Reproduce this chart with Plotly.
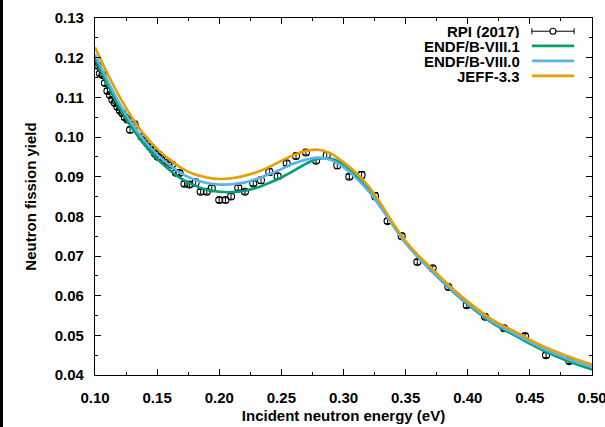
import plotly.graph_objects as go

# RPI (2017) measurement: incident energy (eV), yield, 1-sigma uncertainty
rpi_energy = [0.1000, 0.1020, 0.1040, 0.1060, 0.1080, 0.1100, 0.1120, 0.1140, 0.1160, 0.1180,
              0.1200, 0.1220, 0.1240, 0.1260, 0.1282, 0.1320, 0.1376, 0.1400, 0.1420, 0.1443,
              0.1465, 0.1483, 0.1505, 0.1530, 0.1560, 0.1590, 0.1620, 0.1650, 0.1680, 0.1720,
              0.1760, 0.1810, 0.1850, 0.1900, 0.1940, 0.2000, 0.2050, 0.2095, 0.2153, 0.2207,
              0.2274, 0.2336, 0.2403, 0.2470, 0.2543, 0.2618, 0.2698, 0.2779, 0.2865, 0.2950,
              0.3047, 0.3146, 0.3254, 0.3355, 0.3468, 0.3594, 0.3718, 0.3844, 0.3992, 0.4139,
              0.4292, 0.4461, 0.4630, 0.4817]
rpi_yield = [0.1188, 0.1180, 0.1160, 0.1156, 0.1136, 0.1116, 0.1106, 0.1094, 0.1086, 0.1076,
             0.1067, 0.1060, 0.1050, 0.1044, 0.1018, 0.1030, 0.1000, 0.0992, 0.0984, 0.0975,
             0.0967, 0.0958, 0.0950, 0.0948, 0.0942, 0.0936, 0.0930, 0.0910, 0.0909, 0.0882,
             0.0880, 0.0885, 0.0862, 0.0862, 0.0871, 0.0841, 0.0841, 0.0850, 0.0872, 0.0862,
             0.0883, 0.0891, 0.0912, 0.0901, 0.0934, 0.0952, 0.0961, 0.0940, 0.0954, 0.0929,
             0.0900, 0.0904, 0.0851, 0.0788, 0.0750, 0.0685, 0.0669, 0.0622, 0.0576, 0.0547,
             0.0518, 0.0498, 0.0450, 0.0435]
rpi_error = [0.0006, 0.0006, 0.0006, 0.0006, 0.0006, 0.0006, 0.0006, 0.0006, 0.0006, 0.0006,
             0.0006, 0.0006, 0.0006, 0.0006, 0.0007, 0.0010, 0.0006, 0.0006, 0.0006, 0.0006,
             0.0006, 0.0006, 0.0006, 0.0006, 0.0006, 0.0006, 0.0006, 0.0006, 0.0006, 0.0006,
             0.0006, 0.0009, 0.0006, 0.0006, 0.0007, 0.0006, 0.0006, 0.0007, 0.0006, 0.0006,
             0.0006, 0.0008, 0.0009, 0.0007, 0.0006, 0.0007, 0.0006, 0.0006, 0.0007, 0.0009,
             0.0006, 0.0009, 0.0009, 0.0006, 0.0006, 0.0006, 0.0006, 0.0006, 0.0006, 0.0006,
             0.0006, 0.0006, 0.0006, 0.0006]

# Evaluated-library curves on a common energy grid (eV)
eval_energy = [0.10, 0.11, 0.12, 0.13, 0.14, 0.15, 0.16, 0.17, 0.18, 0.19,
               0.20, 0.21, 0.22, 0.23, 0.24, 0.25, 0.26, 0.27, 0.28, 0.29,
               0.30, 0.31, 0.32, 0.33, 0.34, 0.35, 0.36, 0.37, 0.38, 0.39,
               0.40, 0.42, 0.44, 0.46, 0.48, 0.50]
endf_b81 = [0.1198, 0.1132, 0.1072, 0.1022, 0.0980, 0.0945, 0.0917, 0.0894, 0.0878, 0.0867,
            0.0862, 0.0861, 0.0864, 0.0872, 0.0884, 0.0898, 0.0915, 0.0933, 0.0945, 0.0945,
            0.0931, 0.0904, 0.0869, 0.0826, 0.0779, 0.0734, 0.0697, 0.0665, 0.0634, 0.0605,
            0.0578, 0.0531, 0.0496, 0.0463, 0.0436, 0.0414]
endf_b80 = [0.1208, 0.1143, 0.1083, 0.1032, 0.0990, 0.0956, 0.0929, 0.0907, 0.0893, 0.0884,
            0.0880, 0.0881, 0.0885, 0.0894, 0.0906, 0.0919, 0.0933, 0.0943, 0.0948, 0.0942,
            0.0924, 0.0897, 0.0864, 0.0822, 0.0776, 0.0732, 0.0697, 0.0666, 0.0636, 0.0607,
            0.0580, 0.0534, 0.0500, 0.0467, 0.0441, 0.0420]
jeff_33 = [0.1226, 0.1160, 0.1100, 0.1048, 0.1004, 0.0970, 0.0943, 0.0921, 0.0906, 0.0898,
           0.0894, 0.0896, 0.0902, 0.0911, 0.0924, 0.0940, 0.0955, 0.0965, 0.0968, 0.0958,
           0.0936, 0.0910, 0.0876, 0.0832, 0.0782, 0.0738, 0.0702, 0.0672, 0.0641, 0.0612,
           0.0585, 0.0539, 0.0506, 0.0473, 0.0448, 0.0426]

series_names = ["RPI (2017)", "ENDF/B-VIII.1", "ENDF/B-VIII.0", "JEFF-3.3"]
series_colors = ["#000000", "#009e73", "#56b4e9", "#e69f00"]

x_ticks = [0.10, 0.15, 0.20, 0.25, 0.30, 0.35, 0.40, 0.45, 0.50]
y_ticks = [0.04, 0.05, 0.06, 0.07, 0.08, 0.09, 0.10, 0.11, 0.12, 0.13]

FONT = "Liberation Sans, Arial, Helvetica, sans-serif"

fig = go.Figure()

fig.add_trace(go.Scatter(
    x=rpi_energy, y=rpi_yield, mode="markers", name=series_names[0],
    marker=dict(symbol="circle-open", size=7, color="black", line=dict(width=1.1, color="black")),
    error_y=dict(type="data", array=rpi_error, visible=True, color="black", thickness=1, width=3),
    showlegend=False,
))

for name, vals, col in zip(series_names[1:], [endf_b81, endf_b80, jeff_33], series_colors[1:]):
    fig.add_trace(go.Scatter(
        x=eval_energy, y=vals, mode="lines", name=name,
        line=dict(color=col, width=2.6, shape="spline", smoothing=1.0),
        showlegend=False,
    ))

# Key drawn in the upper right of the frame: labels right-aligned, samples to their right
key_rows_y = [0.963, 0.922, 0.880, 0.838]
key_text_x = 0.859
key_line_x0, key_line_x1 = 0.879, 0.964
shapes = []
annotations = []
for i, (name, col) in enumerate(zip(series_names, series_colors)):
    yy = key_rows_y[i]
    annotations.append(dict(
        x=key_text_x, y=yy, xref="paper", yref="paper", text=name, showarrow=False,
        xanchor="right", yanchor="middle", height=14, valign="middle",
        font=dict(family=FONT, size=15, color="black", weight="bold"),
    ))
    if i == 0:
        shapes.append(dict(type="line", xref="paper", yref="paper", x0=key_line_x0, x1=key_line_x1,
                           y0=yy, y1=yy, line=dict(color="black", width=1)))
        for xc in (key_line_x0, key_line_x1):
            shapes.append(dict(type="line", xref="paper", yref="paper", ysizemode="pixel",
                               yanchor=yy, x0=xc, x1=xc, y0=-3, y1=3,
                               line=dict(color="black", width=1)))
        shapes.append(dict(type="circle", xref="paper", yref="paper", xsizemode="pixel",
                           ysizemode="pixel", xanchor=(key_line_x0 + key_line_x1) / 2, yanchor=yy,
                           x0=-3, x1=3, y0=-3, y1=3, fillcolor="white",
                           line=dict(color="black", width=1.1)))
    else:
        shapes.append(dict(type="line", xref="paper", yref="paper", x0=key_line_x0, x1=key_line_x1,
                           y0=yy, y1=yy, line=dict(color=col, width=2.6)))

# thin dark rule along the left edge of the page
shapes.append(dict(type="rect", xref="paper", yref="paper", x0=-0.5, x1=-92 / 497,
                   y0=-0.3, y1=1.3, fillcolor="black", line=dict(width=0), layer="above"))

axis_common = dict(
    showline=True, linecolor="black", linewidth=1.2, mirror="allticks",
    ticks="inside", ticklen=6, tickwidth=1, tickcolor="black",
    showgrid=False, zeroline=False, ticklabeloverflow="allow", automargin=False,
    tickfont=dict(family=FONT, size=15, color="black", weight="bold"),
)

fig.update_layout(
    width=605, height=427,
    margin=dict(l=95, r=13, t=18, b=52),
    paper_bgcolor="white", plot_bgcolor="white",
    font=dict(family=FONT, color="black"),
    xaxis=dict(
        range=[0.10, 0.50001], tickvals=x_ticks, tickformat=".2f", ticklabelstandoff=9,
        minor=dict(dtick=0.025, tick0=0.10, ticks="inside", ticklen=3, tickcolor="black"),
        title=dict(text="Incident neutron energy (eV)", standoff=5,
                   font=dict(family=FONT, size=15, color="black", weight="bold")),
        **axis_common,
    ),
    yaxis=dict(
        range=[0.04, 0.13], tickvals=y_ticks, tickformat=".2f", ticklabelstandoff=7,
        minor=dict(dtick=0.005, tick0=0.04, ticks="inside", ticklen=3, tickcolor="black"),
        title=dict(text="Neutron fission yield", standoff=14,
                   font=dict(family=FONT, size=15, color="black", weight="bold")),
        **axis_common,
    ),
    shapes=shapes,
    annotations=annotations,
)

fig.write_html("out.html")
